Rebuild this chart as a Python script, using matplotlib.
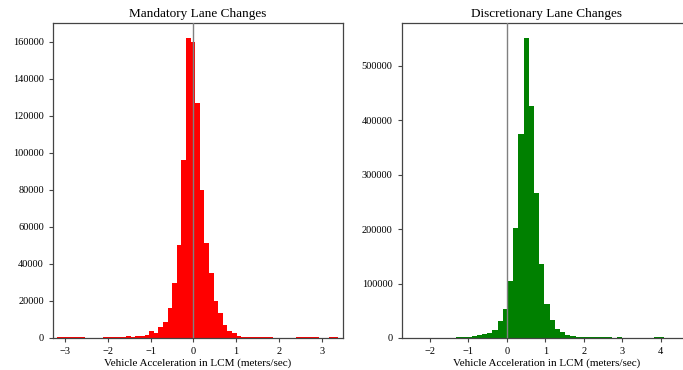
import numpy as np
import matplotlib
matplotlib.use("Agg")
import matplotlib.pyplot as plt

plt.rcParams['font.family'] = ['Liberation Serif', 'DejaVu Serif']

# ---------------- data ----------------
titles = ["Mandatory Lane Changes", "Discretionary Lane Changes"]
xlabel = "Vehicle Acceleration in LCM (meters/sec)"

# Mandatory: 62 bins from -3.18 to 3.485
mlc_range = (-3.18, 3.485)
mlc_counts = [300, 500, 500, 600, 700, 300, 200, 200, 150, 200,
              300, 600, 700, 400, 300, 900, 800, 1000, 1200, 1800,
              3600, 2900, 6000, 8600, 16000, 29700, 50400, 96000, 162000, 159600,
              127000, 80000, 51500, 35000, 19800, 13500, 7200, 3600, 2500, 1200,
              800, 700, 700, 600, 700, 800, 600, 200, 200, 150,
              200, 150, 400, 500, 300, 400, 500, 200, 200, 300,
              300, 200]

# Discretionary: 53 bins from -2.67 to 4.485
dlc_range = (-2.67, 4.485)
dlc_counts = [100, 100, 150, 150, 200, 200, 300, 400, 600, 800,
              1200, 1800, 2500, 3500, 5000, 7000, 10000, 15000, 30600, 54000,
              104000, 202000, 374000, 550000, 425000, 266500, 135000, 62000, 33700, 17000,
              11000, 6000, 3500, 2500, 2500, 2200, 2000, 1500, 1200, 1000,
              800, 1000, 400, 300, 300, 300, 400, 600, 1800, 1500,
              300, 200, 200]

colors = ["red", "green"]
xlims = [(-3.28, 3.50), (-2.73, 4.80)]
ylims = [(0, 170000), (0, 578000)]
xticks = [[-3, -2, -1, 0, 1, 2, 3], [-2, -1, 0, 1, 2, 3, 4]]
yticks = [[0, 20000, 40000, 60000, 80000, 100000, 120000, 140000, 160000],
          [0, 100000, 200000, 300000, 400000, 500000]]

# ---------------- plot ----------------
fig = plt.figure(figsize=(6.83, 3.70), dpi=100)
ax1 = fig.add_axes([0.0776, 0.0865, 0.4246, 0.8513])
ax2 = fig.add_axes([0.5881, 0.0865, 0.4246, 0.8513])

datasets = [(mlc_range, mlc_counts), (dlc_range, dlc_counts)]
for ax, (rng, counts), color, title, xl, yl, xt, yt in zip(
        [ax1, ax2], datasets, colors, titles, xlims, ylims, xticks, yticks):
    edges = np.linspace(rng[0], rng[1], len(counts) + 1)
    ax.hist(edges[:-1], bins=edges, weights=counts, color=color, zorder=2)
    ax.axvline(0, color="gray", lw=1.0, zorder=3)
    ax.set_xlim(*xl)
    ax.set_ylim(*yl)
    ax.set_xticks(xt)
    ax.set_yticks(yt)
    ax.set_title(title, fontsize=9.5, pad=4)
    ax.set_xlabel(xlabel, fontsize=8, labelpad=2)
    ax.tick_params(labelsize=7.5, length=3, width=0.8, color="#444444")
    for s in ax.spines.values():
        s.set_color("#444444")
        s.set_linewidth(0.9)

fig.savefig("out.png", dpi=100)
